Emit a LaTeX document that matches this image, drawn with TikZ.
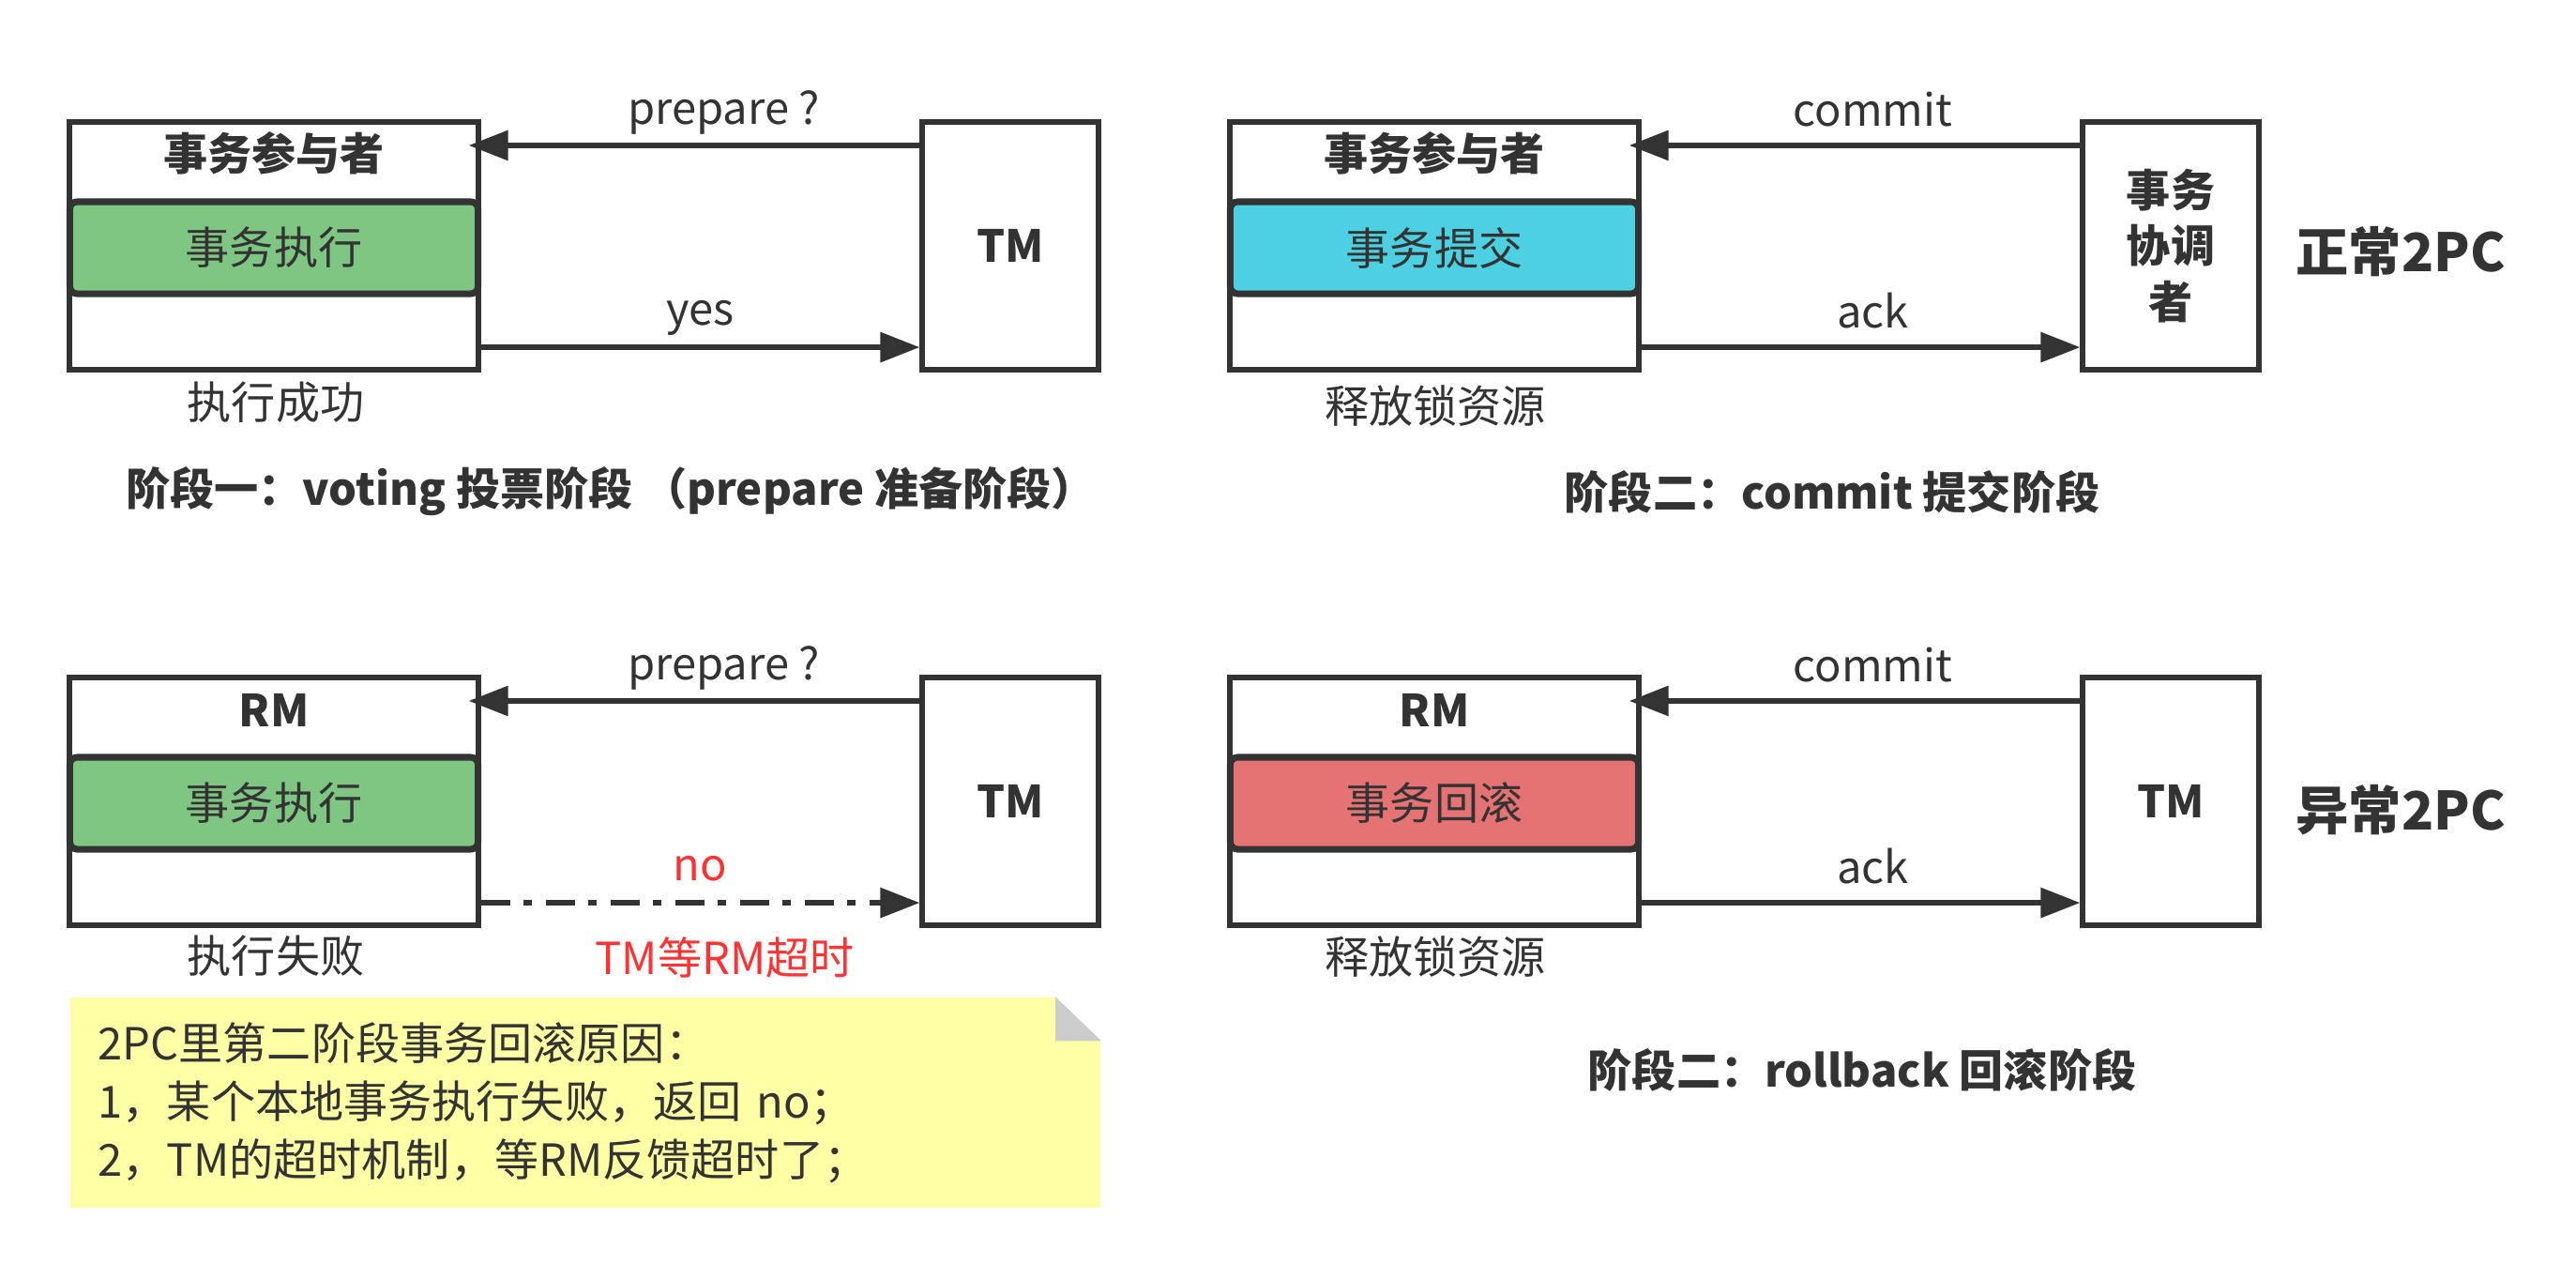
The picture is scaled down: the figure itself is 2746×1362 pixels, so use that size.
\documentclass[tikz,border=0pt]{standalone}
\usepackage{fontspec}
\setmainfont{Noto Sans CJK SC}
\usetikzlibrary{arrows.meta}
\definecolor{ink}{RGB}{51,51,51}
\definecolor{okgreen}{RGB}{127,198,131}
\definecolor{okcyan}{RGB}{77,208,225}
\definecolor{badred}{RGB}{229,115,115}
\definecolor{notefill}{RGB}{255,255,166}
\definecolor{foldgray}{RGB}{204,204,204}
\definecolor{warnred}{RGB}{255,51,51}

\begin{document}
\begin{tikzpicture}[x=0.01cm,y=-0.01cm,>={Triangle[length=4.2mm,width=3.1mm]}]
  \tikzstyle{txt}=[font=\fontsize{13.4}{16}\selectfont, text=ink]
  \tikzstyle{btxt}=[font=\fontsize{13.4}{16}\selectfont\bfseries, text=ink]
  \tikzstyle{tag}=[font=\fontsize{16}{19}\selectfont\bfseries, text=ink]
  \tikzstyle{lane}=[draw=ink, line width=1.7pt, rectangle, minimum width=4.35cm, minimum height=2.64cm, inner sep=0pt]
  \tikzstyle{tmbox}=[draw=ink, line width=1.7pt, rectangle, minimum width=1.87cm, minimum height=2.64cm, align=center, font=\fontsize{13.4}{16.8}\selectfont\bfseries, text=ink]
  \tikzstyle{stepbox}=[draw=ink, line width=2pt, rounded corners=0.08cm, minimum width=4.35cm, minimum height=0.98cm, txt]
  \tikzstyle{msg}=[->, draw=ink, line width=1.7pt]
  \tikzstyle{notebox}=[fill=notefill, minimum width=10.98cm, minimum height=2.24cm, text width=10.38cm, inner xsep=0.3cm, align=left, font=\fontsize{13.4}{17.6}\selectfont, text=ink]

  \useasboundingbox (0,0) rectangle (2746,1362);

  % voting phase
  \node[lane] (rm1) at (292,262) {};
  \node[btxt] (rm1head) at (292,163) {事务参与者};
  \node[stepbox, fill=okgreen] (rm1work) at (292,264) {事务执行};
  \node[tmbox] (tm1) at (1077,262) {TM};
  \node[txt] (rm1res) at (294,429) {执行成功};
  \node[btxt] (cap1) at (651,524) {阶段一：voting 投票阶段 （prepare 准备阶段）};
  \draw[msg, shorten >=-0.13cm] ([yshift=-0.28cm]tm1.north west) -- node[txt, yshift=0.35cm, xshift=0.25cm] {prepare ?} ([yshift=-0.28cm]rm1.north east);
  \draw[msg] ([yshift=0.27cm]rm1.south east) -- node[txt, yshift=0.31cm] {yes} ([yshift=0.27cm]tm1.south west);

  % commit phase
  \node[lane] (rm2) at (1529,262) {};
  \node[btxt] (rm2head) at (1529,163) {事务参与者};
  \node[stepbox, fill=okcyan] (rm2work) at (1529,264) {事务提交};
  \node[tmbox] (tm2) at (2314,262) {事务\\协调\\者};
  \node[txt] (rm2res) at (1530,432) {释放锁资源};
  \node[btxt] (cap2) at (1953,524) {阶段二：commit 提交阶段};
  \node[tag] (ok2pc) at (2559,268) {正常2PC};
  \draw[msg, shorten >=-0.13cm] ([yshift=-0.28cm]tm2.north west) -- node[txt, yshift=0.38cm, xshift=0.13cm] {commit} ([yshift=-0.28cm]rm2.north east);
  \draw[msg] ([yshift=0.27cm]rm2.south east) -- node[txt, yshift=0.39cm, xshift=0.13cm] {ack} ([yshift=0.27cm]tm2.south west);

  % voting phase, failed
  \node[lane] (rm3) at (292,854) {};
  \node[btxt] (rm3head) at (292,757) {RM};
  \node[stepbox, fill=okgreen] (rm3work) at (292,856) {事务执行};
  \node[tmbox] (tm3) at (1077,854) {TM};
  \node[txt] (rm3res) at (294,1019) {执行失败};
  \draw[msg, shorten >=-0.13cm] ([yshift=-0.28cm]tm3.north west) -- node[txt, yshift=0.35cm, xshift=0.25cm] {prepare ?} ([yshift=-0.28cm]rm3.north east);
  \draw[msg, dash pattern=on 0.31cm off 0.145cm on 0.09cm off 0.145cm] ([yshift=0.27cm]rm3.south east) -- node[txt, text=warnred, yshift=0.36cm] {no} node[txt, text=warnred, yshift=-0.58cm, xshift=0.26cm] {TM等RM超时} ([yshift=0.27cm]tm3.south west);

  \node[notebox] (why) at (624,1175) {2PC里第二阶段事务回滚原因：\\1，某个本地事务执行失败，返回 no；\\2，TM的超时机制，等RM反馈超时了；};
  \fill[white] ([xshift=-0.49cm]why.north east) -- (why.north east) -- ([yshift=-0.47cm]why.north east) -- cycle;
  \fill[foldgray] ([xshift=-0.49cm]why.north east) -- ([xshift=-0.49cm,yshift=-0.47cm]why.north east) -- ([yshift=-0.47cm]why.north east) -- cycle;

  % rollback phase
  \node[lane] (rm4) at (1529,854) {};
  \node[btxt] (rm4head) at (1529,757) {RM};
  \node[stepbox, fill=badred] (rm4work) at (1529,856) {事务回滚};
  \node[tmbox] (tm4) at (2314,854) {TM};
  \node[txt] (rm4res) at (1530,1019) {释放锁资源};
  \node[btxt] (cap4) at (1985,1140) {阶段二：rollback 回滚阶段};
  \node[tag] (bad2pc) at (2559,863) {异常2PC};
  \draw[msg, shorten >=-0.13cm] ([yshift=-0.28cm]tm4.north west) -- node[txt, yshift=0.38cm, xshift=0.13cm] {commit} ([yshift=-0.28cm]rm4.north east);
  \draw[msg] ([yshift=0.27cm]rm4.south east) -- node[txt, yshift=0.39cm, xshift=0.13cm] {ack} ([yshift=0.27cm]tm4.south west);
\end{tikzpicture}
\end{document}
